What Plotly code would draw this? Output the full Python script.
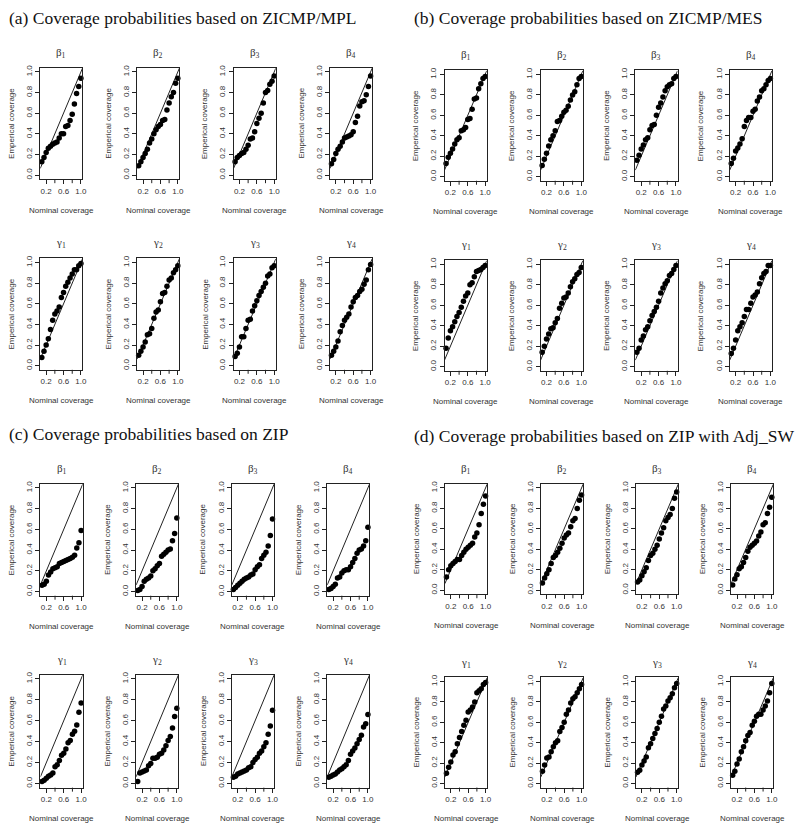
import plotly.graph_objects as go

W, H = 800, 831

nominal = [0.10, 0.15, 0.20, 0.25, 0.30, 0.35, 0.40, 0.45, 0.50, 0.55,
           0.60, 0.65, 0.70, 0.75, 0.80, 0.85, 0.90, 0.95, 1.00]

# (a) ZICMP/MPL
a_b1 = [0.13, 0.17, 0.22, 0.26, 0.28, 0.30, 0.31, 0.32, 0.36, 0.40, 0.40, 0.47, 0.48, 0.53, 0.59, 0.69, 0.79, 0.86, 0.94]
a_b2 = [0.09, 0.13, 0.17, 0.21, 0.25, 0.31, 0.35, 0.40, 0.44, 0.47, 0.49, 0.53, 0.54, 0.63, 0.70, 0.76, 0.80, 0.89, 0.94]
a_b3 = [0.13, 0.17, 0.19, 0.21, 0.22, 0.25, 0.29, 0.35, 0.36, 0.42, 0.50, 0.55, 0.60, 0.70, 0.80, 0.82, 0.88, 0.91, 0.96]
a_b4 = [0.11, 0.15, 0.21, 0.25, 0.28, 0.32, 0.36, 0.37, 0.38, 0.39, 0.42, 0.51, 0.57, 0.67, 0.71, 0.72, 0.78, 0.86, 0.96]
a_g1 = [0.08, 0.14, 0.20, 0.26, 0.35, 0.44, 0.50, 0.53, 0.57, 0.66, 0.71, 0.77, 0.81, 0.85, 0.89, 0.93, 0.93, 0.97, 0.99]
a_g2 = [0.10, 0.14, 0.18, 0.23, 0.30, 0.31, 0.36, 0.46, 0.52, 0.54, 0.62, 0.70, 0.71, 0.77, 0.83, 0.85, 0.90, 0.93, 0.97]
a_g3 = [0.09, 0.12, 0.18, 0.28, 0.28, 0.36, 0.44, 0.45, 0.53, 0.58, 0.63, 0.68, 0.72, 0.76, 0.80, 0.87, 0.89, 0.95, 0.97]
a_g4 = [0.10, 0.14, 0.18, 0.24, 0.33, 0.39, 0.44, 0.47, 0.50, 0.57, 0.62, 0.66, 0.68, 0.72, 0.74, 0.79, 0.83, 0.93, 0.98]

# (b) ZICMP/MES
b_b1 = [0.13, 0.19, 0.23, 0.27, 0.32, 0.36, 0.38, 0.45, 0.46, 0.48, 0.56, 0.57, 0.66, 0.76, 0.77, 0.86, 0.91, 0.96, 0.98]
b_b2 = [0.11, 0.17, 0.23, 0.30, 0.36, 0.40, 0.45, 0.54, 0.55, 0.59, 0.63, 0.65, 0.69, 0.75, 0.80, 0.83, 0.90, 0.96, 0.98]
b_b3 = [0.16, 0.21, 0.27, 0.31, 0.36, 0.38, 0.46, 0.50, 0.51, 0.60, 0.68, 0.72, 0.78, 0.84, 0.88, 0.90, 0.91, 0.96, 0.98]
b_b4 = [0.13, 0.18, 0.25, 0.28, 0.32, 0.37, 0.49, 0.55, 0.58, 0.58, 0.64, 0.66, 0.74, 0.78, 0.84, 0.86, 0.90, 0.94, 0.96]
b_g1 = [0.18, 0.28, 0.35, 0.39, 0.44, 0.49, 0.53, 0.58, 0.64, 0.69, 0.72, 0.80, 0.82, 0.88, 0.93, 0.94, 0.95, 0.97, 0.99]
b_g2 = [0.14, 0.20, 0.27, 0.32, 0.37, 0.38, 0.43, 0.47, 0.57, 0.62, 0.67, 0.68, 0.72, 0.78, 0.83, 0.86, 0.90, 0.92, 0.97]
b_g3 = [0.14, 0.18, 0.26, 0.30, 0.36, 0.39, 0.45, 0.50, 0.54, 0.58, 0.64, 0.72, 0.77, 0.81, 0.84, 0.89, 0.91, 0.95, 0.99]
b_g4 = [0.13, 0.18, 0.26, 0.35, 0.39, 0.43, 0.49, 0.56, 0.56, 0.62, 0.68, 0.70, 0.73, 0.81, 0.87, 0.91, 0.93, 0.99, 0.99]

# (c) ZIP
c_b1 = [0.06, 0.07, 0.10, 0.16, 0.19, 0.22, 0.23, 0.24, 0.27, 0.28, 0.29, 0.30, 0.31, 0.32, 0.33, 0.35, 0.42, 0.47, 0.59]
c_b2 = [0.01, 0.02, 0.05, 0.10, 0.12, 0.13, 0.15, 0.20, 0.22, 0.25, 0.27, 0.34, 0.36, 0.38, 0.40, 0.41, 0.49, 0.56, 0.71]
c_b3 = [0.02, 0.04, 0.06, 0.08, 0.10, 0.12, 0.13, 0.14, 0.16, 0.17, 0.21, 0.24, 0.26, 0.32, 0.35, 0.38, 0.44, 0.54, 0.70]
c_b4 = [0.02, 0.03, 0.05, 0.07, 0.13, 0.14, 0.18, 0.20, 0.21, 0.21, 0.24, 0.28, 0.32, 0.37, 0.40, 0.41, 0.44, 0.49, 0.62]
c_g1 = [0.02, 0.03, 0.05, 0.07, 0.08, 0.10, 0.16, 0.18, 0.22, 0.27, 0.29, 0.33, 0.39, 0.41, 0.47, 0.50, 0.56, 0.68, 0.77]
c_g2 = [0.02, 0.10, 0.11, 0.12, 0.13, 0.17, 0.19, 0.24, 0.24, 0.25, 0.28, 0.29, 0.32, 0.36, 0.41, 0.45, 0.53, 0.64, 0.72]
c_g3 = [0.06, 0.07, 0.09, 0.10, 0.11, 0.12, 0.13, 0.15, 0.16, 0.20, 0.23, 0.25, 0.29, 0.31, 0.35, 0.39, 0.47, 0.55, 0.70]
c_g4 = [0.06, 0.07, 0.08, 0.09, 0.11, 0.13, 0.14, 0.16, 0.18, 0.22, 0.28, 0.31, 0.34, 0.38, 0.42, 0.46, 0.54, 0.57, 0.66]

# (d) ZIP with Adj_SW
d_b1 = [0.13, 0.20, 0.24, 0.26, 0.28, 0.30, 0.30, 0.34, 0.37, 0.40, 0.42, 0.44, 0.46, 0.52, 0.56, 0.64, 0.75, 0.84, 0.92]
d_b2 = [0.07, 0.12, 0.16, 0.20, 0.26, 0.32, 0.34, 0.37, 0.41, 0.46, 0.51, 0.54, 0.56, 0.62, 0.68, 0.70, 0.80, 0.88, 0.93]
d_b3 = [0.08, 0.10, 0.14, 0.18, 0.22, 0.29, 0.34, 0.36, 0.40, 0.44, 0.50, 0.56, 0.61, 0.68, 0.71, 0.74, 0.80, 0.90, 0.96]
d_b4 = [0.05, 0.11, 0.15, 0.21, 0.23, 0.27, 0.32, 0.38, 0.42, 0.44, 0.46, 0.48, 0.53, 0.57, 0.64, 0.66, 0.75, 0.81, 0.91]
d_g1 = [0.10, 0.16, 0.21, 0.28, 0.31, 0.39, 0.45, 0.51, 0.57, 0.62, 0.70, 0.72, 0.75, 0.80, 0.89, 0.91, 0.93, 0.97, 0.99]
d_g2 = [0.12, 0.18, 0.25, 0.26, 0.31, 0.36, 0.40, 0.42, 0.51, 0.55, 0.60, 0.68, 0.72, 0.79, 0.83, 0.85, 0.89, 0.93, 0.97]
d_g3 = [0.11, 0.13, 0.18, 0.22, 0.26, 0.35, 0.39, 0.44, 0.49, 0.54, 0.60, 0.66, 0.73, 0.76, 0.81, 0.84, 0.88, 0.94, 0.98]
d_g4 = [0.08, 0.12, 0.19, 0.24, 0.31, 0.36, 0.42, 0.47, 0.50, 0.57, 0.61, 0.66, 0.68, 0.68, 0.72, 0.76, 0.81, 0.89, 0.98]

param_labels = ["β<sub>1</sub>", "β<sub>2</sub>", "β<sub>3</sub>", "β<sub>4</sub>",
                "γ<sub>1</sub>", "γ<sub>2</sub>", "γ<sub>3</sub>", "γ<sub>4</sub>"]

# x ticks: R draws all five but only labels 0.2, 0.6, 1.0 (others overlap)
x_labelled = [0.2, 0.6, 1.0]
x_unlabelled = [0.4, 0.8]
y_ticks = [0.0, 0.2, 0.4, 0.6, 0.8, 1.0]

panels = [
    {"title": "(a) Coverage probabilities based on ZICMP/MPL",
     "series": [a_b1, a_b2, a_b3, a_b4, a_g1, a_g2, a_g3, a_g4],
     "tx": 6.7, "ty": 15, "cols": [40.5, 138, 235, 332],
     "rows": [(69.2, 172.7), (260.5, 364)]},
    {"title": "(b) Coverage probabilities based on ZICMP/MES",
     "series": [b_b1, b_b2, b_b3, b_b4, b_g1, b_g2, b_g3, b_g4],
     "tx": 415, "ty": 15, "cols": [447.3, 544, 639.3, 734.3],
     "rows": [(71.7, 174.3), (262.3, 365)]},
    {"title": "(c) Coverage probabilities based on ZIP",
     "series": [c_b1, c_b2, c_b3, c_b4, c_g1, c_g2, c_g3, c_g4],
     "tx": 6.7, "ty": 433, "cols": [40.7, 137, 233.3, 329.3],
     "rows": [(486.7, 590.7), (678.3, 783.3)]},
    {"title": "(d) Coverage probabilities based on ZIP with Adj_SW",
     "series": [d_b1, d_b2, d_b3, d_b4, d_g1, d_g2, d_g3, d_g4],
     "tx": 415, "ty": 435, "cols": [447.7, 544.3, 640, 735.7],
     "rows": [(486.7, 589.3), (681, 783.3)]},
]

BOX_W = 42.5
TICKLEN = 4
SANS = "Liberation Sans, Arial, sans-serif"
SERIF = "Liberation Serif, Times New Roman, serif"
INK = "#222"
TXT = "#333"

# R style axis limits (4% padding)
span = max(nominal) - min(nominal)
xlim = [min(nominal) - 0.04 * span, max(nominal) + 0.04 * span]
ylim = [-0.04, 1.04]


def px(x):
    return x / W


def py(y):
    return 1 - y / H


def note(text, x, y, size, family=SANS, angle=0, xanchor="center", color=TXT):
    return dict(text=text, x=px(x), y=py(y), xref="paper", yref="paper",
                xanchor=xanchor, yanchor="middle", showarrow=False, textangle=angle,
                font=dict(family=family, size=size, color=color))


fig = go.Figure()
annotations = []
shapes = []
axes = {}
k = 0
for p in panels:
    annotations.append(note(p["title"], p["tx"], p["ty"], 17.5, family=SERIF,
                            xanchor="left", color="#111"))
    for i, vals in enumerate(p["series"]):
        k += 1
        col = i % 4
        y1, y0 = p["rows"][i // 4]
        unit = y0 - y1
        top = y1 - 0.04 * unit
        bot = y0 + 0.04 * unit
        left = p["cols"][col]
        right = left + BOX_W
        xn = "x" if k == 1 else f"x{k}"
        yn = "y" if k == 1 else f"y{k}"
        axes["xaxis" if k == 1 else f"xaxis{k}"] = dict(
            domain=[px(left), px(right)], anchor=yn, range=xlim,
            tickvals=x_labelled, tickformat=".1f",
            ticks="outside", ticklen=TICKLEN, tickcolor=INK, showline=True, mirror=True,
            linecolor=INK, linewidth=1, showgrid=False, zeroline=False,
            tickfont=dict(family=SANS, size=8, color=TXT))
        axes["yaxis" if k == 1 else f"yaxis{k}"] = dict(
            domain=[py(bot), py(top)], anchor=xn, range=ylim,
            tickvals=y_ticks, tickformat=".1f", tickangle=-90,
            ticks="outside", ticklen=TICKLEN, tickcolor=INK, showline=True, mirror=True,
            linecolor=INK, linewidth=1, showgrid=False, zeroline=False,
            tickfont=dict(family=SANS, size=8, color=TXT))
        # unlabelled tick marks
        for tv in x_unlabelled:
            shapes.append(dict(type="line", xref=xn, yref=f"{yn} domain",
                               x0=tv, x1=tv, y0=0, y1=-TICKLEN / (bot - top),
                               line=dict(color=INK, width=1)))
        # reference line y = x
        fig.add_trace(go.Scatter(x=xlim, y=xlim, mode="lines", xaxis=xn, yaxis=yn,
                                 line=dict(color=INK, width=1), showlegend=False,
                                 hoverinfo="skip"))
        fig.add_trace(go.Scatter(x=nominal, y=vals, mode="markers", xaxis=xn, yaxis=yn,
                                 marker=dict(color="black", size=5.5), showlegend=False,
                                 cliponaxis=False))
        cx = (left + right) / 2
        annotations.append(note(param_labels[i], cx, top - 15, 11, family=SERIF))
        annotations.append(note("Nominal coverage", cx, bot + 31, 8))
        annotations.append(note("Emperical coverage", left - 29, (top + bot) / 2, 8, angle=-90))

fig.update_layout(width=W, height=H, margin=dict(l=0, r=0, t=0, b=0),
                  paper_bgcolor="white", plot_bgcolor="white",
                  annotations=annotations, shapes=shapes, **axes)

fig.write_html("out.html", config={"displayModeBar": False},
               post_script="document.body.style.margin='0';")
